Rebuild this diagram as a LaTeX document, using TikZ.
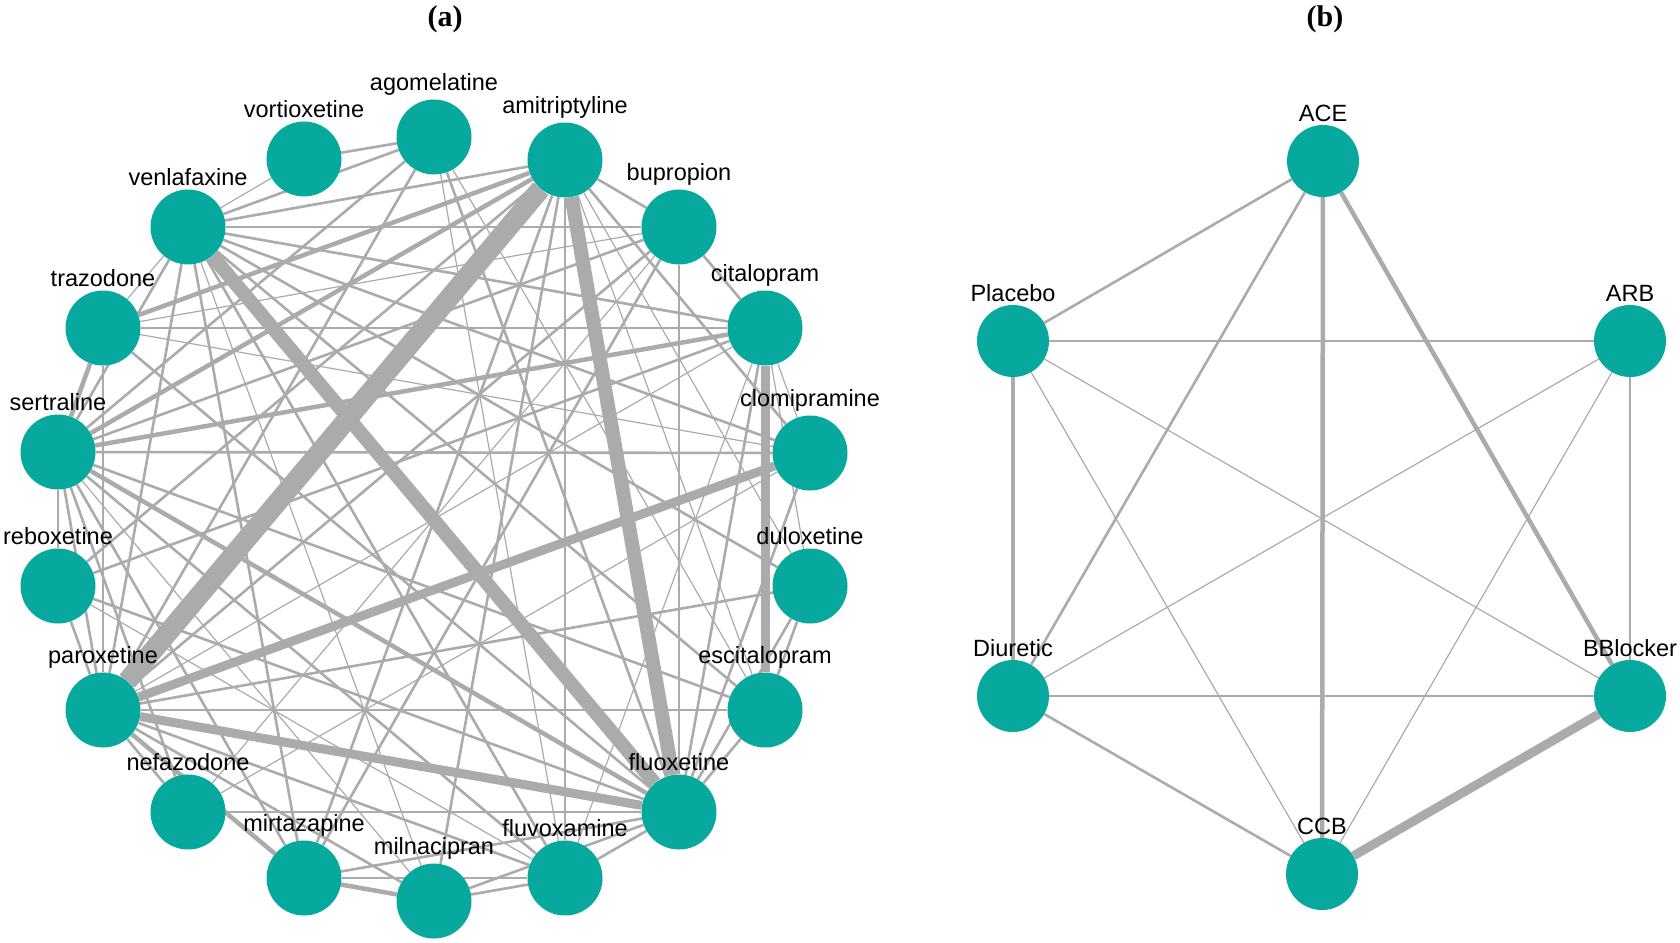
\documentclass[tikz,border=0pt]{standalone}
\usepackage{fontspec}
\setmainfont{Liberation Sans}
\newfontfamily\titlefont{Liberation Serif}
\usetikzlibrary{positioning}
\usetikzlibrary{backgrounds}
\definecolor{drugteal}{HTML}{07A89E}
\definecolor{edgegray}{HTML}{ABABAB}
\begin{document}
\begin{tikzpicture}[x=1pt,y=-1pt]
		\tikzset{vertex/.style = {shape=circle,fill=drugteal,draw=none,minimum size=75pt,inner sep=0pt}}
		\tikzset{lbl/.style = {font=\fontsize{23.5}{26}\selectfont,label distance=0pt}}
		\tikzset{ttl/.style = {font=\titlefont\fontsize{30}{32}\selectfont\bfseries}}
		\tikzset{edge/.style = {draw=edgegray}}
		\tikzset{T/.style = {edge,line width=1.2pt}}
		\tikzset{N/.style = {edge,line width=2.6pt}}
		\tikzset{M/.style = {edge,line width=4.5pt}}
		\tikzset{K/.style = {edge,line width=9pt}}
		\tikzset{H/.style = {edge,line width=14pt}}
		\tikzset{X/.style = {edge,line width=20pt}}
		\useasboundingbox (0,0) rectangle (1680,942);
		% titles
		\node[ttl] (ta) at (445,19) {(a)};
		\node[ttl] (tb) at (1325,19) {(b)};
		% vertices (a)
		\foreach \n/\x/\y in {vortioxetine/304/159, agomelatine/434/137, amitriptyline/565/160,
			bupropion/679/227, citalopram/765/328, clomipramine/810/453, duloxetine/810/586,
			escitalopram/765/710, fluoxetine/679/812, fluvoxamine/565/878, milnacipran/434/901,
			mirtazapine/304/878, nefazodone/188/812, paroxetine/103/710, reboxetine/58/586,
			sertraline/58/452, trazodone/103/328, venlafaxine/188/227}
			\node[vertex, label={[lbl]above:\n}] (\n) at (\x,\y) {};
		% vertices (b)
		\foreach \n/\x/\y in {ACE/1323/161, Placebo/1013/341, ARB/1630/341,
			Diuretic/1013/696, BBlocker/1630/696, CCB/1322/874}
			\node[vertex, minimum size=72pt, label={[lbl]above:\n}] (\n) at (\x,\y) {};
		%edges
		\begin{scope}[on background layer]
		\foreach \a/\b/\w in {
			amitriptyline/paroxetine/X, amitriptyline/fluoxetine/H, venlafaxine/fluoxetine/H,
			citalopram/escitalopram/K, clomipramine/paroxetine/K, paroxetine/fluoxetine/K,
			sertraline/fluoxetine/M, trazodone/amitriptyline/M, sertraline/amitriptyline/M,
			mirtazapine/paroxetine/M, mirtazapine/milnacipran/M, sertraline/trazodone/M,
			sertraline/citalopram/M,
			venlafaxine/vortioxetine/T, venlafaxine/agomelatine/N, venlafaxine/amitriptyline/N,
			venlafaxine/bupropion/T, venlafaxine/citalopram/N, venlafaxine/clomipramine/N,
			venlafaxine/escitalopram/N, venlafaxine/trazodone/T, venlafaxine/sertraline/N,
			venlafaxine/paroxetine/N, venlafaxine/mirtazapine/N, venlafaxine/milnacipran/T,
			venlafaxine/fluvoxamine/N, venlafaxine/duloxetine/N,
			amitriptyline/bupropion/N, amitriptyline/fluvoxamine/N, amitriptyline/milnacipran/N,
			amitriptyline/mirtazapine/N, amitriptyline/reboxetine/N, amitriptyline/escitalopram/T,
			amitriptyline/duloxetine/T, amitriptyline/clomipramine/N,
			agomelatine/vortioxetine/N, agomelatine/paroxetine/N, agomelatine/fluoxetine/N,
			agomelatine/escitalopram/T, agomelatine/sertraline/N, agomelatine/fluvoxamine/T,
			bupropion/citalopram/N, bupropion/trazodone/T, bupropion/sertraline/N,
			bupropion/paroxetine/N, bupropion/fluoxetine/T, bupropion/mirtazapine/N,
			bupropion/nefazodone/T,
			citalopram/clomipramine/T, citalopram/trazodone/T, citalopram/fluoxetine/N,
			citalopram/fluvoxamine/T, citalopram/duloxetine/T, citalopram/paroxetine/T,
			citalopram/reboxetine/N,
			clomipramine/sertraline/N, clomipramine/trazodone/T, clomipramine/fluoxetine/N,
			clomipramine/nefazodone/T,
			duloxetine/paroxetine/N, duloxetine/escitalopram/N, duloxetine/fluoxetine/N,
			escitalopram/paroxetine/N, escitalopram/fluoxetine/N, escitalopram/sertraline/N,
			fluoxetine/trazodone/N, fluoxetine/nefazodone/N, fluoxetine/mirtazapine/N,
			fluoxetine/milnacipran/N, fluoxetine/fluvoxamine/N, fluoxetine/reboxetine/N,
			fluvoxamine/paroxetine/N, fluvoxamine/sertraline/N, fluvoxamine/milnacipran/N,
			fluvoxamine/mirtazapine/N, fluvoxamine/reboxetine/T,
			milnacipran/paroxetine/N, milnacipran/sertraline/T,
			mirtazapine/sertraline/N,
			nefazodone/paroxetine/N, nefazodone/sertraline/N,
			paroxetine/reboxetine/N, paroxetine/sertraline/N, paroxetine/trazodone/N,
			sertraline/reboxetine/N,
			ACE/Placebo/N, ACE/Diuretic/N, ACE/CCB/M, ACE/BBlocker/M,
			Placebo/ARB/N, Placebo/Diuretic/M, Placebo/CCB/T, Placebo/BBlocker/T,
			ARB/Diuretic/T, ARB/CCB/T, ARB/BBlocker/T,
			Diuretic/BBlocker/N, Diuretic/CCB/N, CCB/BBlocker/K}
			\draw[\w] (\a) -- (\b);
		\end{scope}
\end{tikzpicture}
\end{document}
